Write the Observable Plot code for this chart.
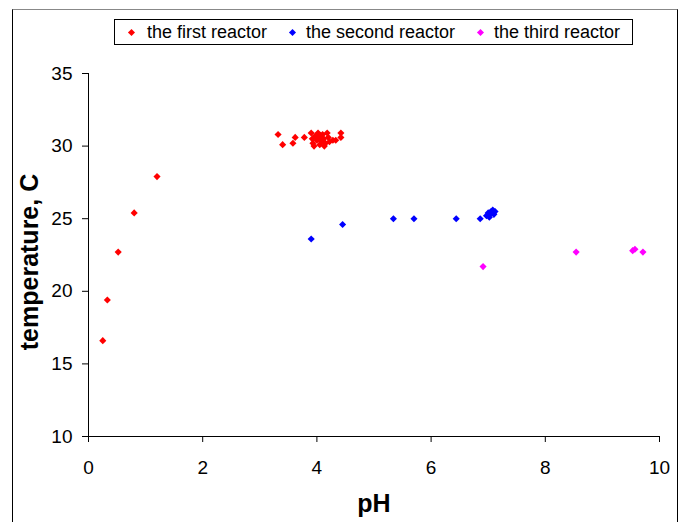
<!DOCTYPE html>
<html>
<head>
<meta charset="utf-8">
<script src="https://cdn.jsdelivr.net/npm/d3@7"></script>
<script src="https://cdn.jsdelivr.net/npm/@observablehq/plot@0.6"></script>
<style>
  html, body { margin: 0; padding: 0; background: #fff; overflow: hidden; }
  #wrap { position: relative; width: 683px; height: 522px; font-family: "Liberation Sans", Arial, sans-serif; }
  #frame { position: absolute; left: 12px; top: 9px; width: 664px; height: 600px;
           border-left: 1px solid #000; border-right: 1px solid #000; border-top: 1px solid #888; }
  #legend { position: absolute; left: 114px; top: 19px; width: 517px; height: 24px; border: 1px solid #000;
            background: #fff; font-size: 18px; color: #000; }
  .item { position: absolute; top: 0; height: 24px; line-height: 24px; white-space: nowrap; }
  .mk { position: absolute; width: 5px; height: 5px; transform: rotate(45deg); top: 10px; }
  svg { position: absolute; left: 0; top: 0; }
</style>
</head>
<body>
<div id="wrap">
  <div id="frame"></div>
  <div id="chart"></div>
  <div id="legend"></div>
</div>
<script>
// Series names and colours
const seriesNames = ["the first reactor", "the second reactor", "the third reactor"];
const seriesColors = ["#FF0000", "#0000FF", "#FF00FF"];

// First reactor
const firstPH = [0.25, 0.33, 0.52, 0.80, 1.20,
  3.32, 3.40, 3.58, 3.62, 3.78,
  3.90, 3.92, 3.93, 3.95, 3.97, 4.00, 4.02, 4.05, 4.05, 4.06, 4.08, 4.10, 4.12, 4.13, 4.15,
  4.18, 4.20, 4.22, 4.28, 4.33, 4.42, 4.42];
const firstT = [16.6, 19.4, 22.7, 25.4, 27.9,
  30.8, 30.1, 30.2, 30.6, 30.6,
  30.9, 30.5, 30.2, 30.0, 30.7, 30.4, 30.9, 30.1, 30.6, 30.75, 30.3, 30.8, 30.5, 30.0, 30.2,
  30.9, 30.6, 30.3, 30.4, 30.4, 30.9, 30.6];

// Second reactor
const secondPH = [3.90, 4.45, 5.34, 5.70, 6.44, 6.86, 6.97, 7.00, 7.02, 7.03, 7.05, 7.08, 7.10, 7.12];
const secondT = [23.6, 24.6, 25.0, 25.0, 25.0, 25.0, 25.2, 25.4, 25.1, 25.3, 25.5, 25.6, 25.3, 25.5];

// Third reactor
const thirdPH = [6.91, 8.54, 9.53, 9.57, 9.71];
const thirdT = [21.7, 22.7, 22.8, 22.9, 22.7];

// Axis ticks
const xTicks = [0, 2, 4, 6, 8, 10];
const yTicks = [10, 15, 20, 25, 30, 35];
const xLabel = "pH";
const yLabel = "temperature, C";

const rows = [];
[[firstPH, firstT], [secondPH, secondT], [thirdPH, thirdT]].forEach(([xs, ys], s) => {
  xs.forEach((x, i) => rows.push({pH: x, T: ys[i], series: seriesNames[s]}));
});

const font = "Liberation Sans, Arial, sans-serif";

const chart = Plot.plot({
  width: 683,
  height: 522,
  marginLeft: 88,
  marginRight: 24,
  marginTop: 73,
  marginBottom: 86,
  style: {fontFamily: font, fontSize: "19px", color: "#000", background: "transparent", overflow: "visible"},
  x: {domain: [0, 10], ticks: xTicks},
  y: {domain: [10, 35], ticks: yTicks},
  color: {domain: seriesNames, range: seriesColors},
  marks: [
    Plot.axisX({ticks: xTicks, tickSize: 6, tickPadding: 18, label: null, fontSize: 19, fontFamily: font}),
    Plot.axisY({ticks: yTicks, tickSize: 6, tickPadding: 10, label: null, fontSize: 19, fontFamily: font}),
    Plot.ruleX([0], {stroke: "#000", strokeWidth: 1}),
    Plot.ruleY([10], {stroke: "#000", strokeWidth: 1}),
    Plot.dot(rows, {x: "pH", y: "T", fill: "series", stroke: "none", symbol: "diamond2", r: 3.2}),
    Plot.text([yLabel], {frameAnchor: "left", textAnchor: "middle", dx: -59, dy: 7, rotate: -90, fontSize: 25, fontWeight: "bold", fontFamily: font, fill: "#000"}),
    Plot.text([xLabel], {frameAnchor: "bottom", textAnchor: "middle", dy: 75, fontSize: 25, fontWeight: "bold", fontFamily: font, fill: "#000"})
  ]
});
document.getElementById("chart").appendChild(chart);

// Legend
const legend = document.getElementById("legend");
const markerX = [14, 175, 363];
const textX = [32, 191, 379];
seriesNames.forEach((name, i) => {
  const mk = document.createElement("div");
  mk.className = "mk";
  mk.style.left = (markerX[i]) + "px";
  mk.style.background = seriesColors[i];
  legend.appendChild(mk);
  const t = document.createElement("span");
  t.className = "item";
  t.style.left = textX[i] + "px";
  t.textContent = name;
  legend.appendChild(t);
});
</script>
</body>
</html>
